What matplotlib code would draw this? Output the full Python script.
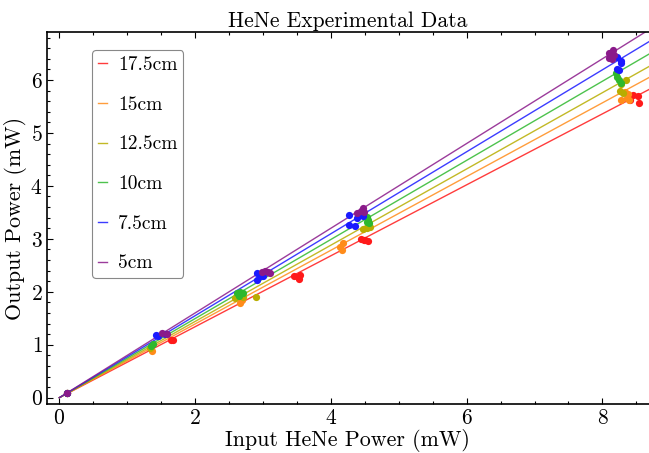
import matplotlib
matplotlib.use('Agg')
import matplotlib.pyplot as plt
from matplotlib.ticker import MultipleLocator
import numpy as np

plt.rcParams['font.family'] = 'serif'
plt.rcParams['font.serif'] = ['cmr10', 'DejaVu Serif']
plt.rcParams['mathtext.fontset'] = 'cm'
plt.rcParams['axes.formatter.use_mathtext'] = True

# series labels and colours (cavity length)
labels = ['17.5cm', '15cm', '12.5cm', '10cm', '7.5cm', '5cm']
colors = ['#ff1a1a', '#ff8c1a', '#b8ad00', '#2eb82e', '#1a1aff', '#8a1a8a']

x_175 = [0.11, 1.64, 1.67, 3.45, 3.51, 3.54, 3.53, 4.45, 4.50, 4.55, 4.49, 8.45, 8.53, 8.40, 8.54]
y_175 = [0.08, 1.09, 1.08, 2.30, 2.27, 2.32, 2.25, 2.99, 2.98, 2.95, 2.97, 5.72, 5.69, 5.62, 5.57]

x_150 = [0.11, 1.36, 2.66, 2.69, 4.18, 4.14, 4.16, 8.33, 8.38, 8.36, 8.28, 8.39]
y_150 = [0.08, 0.89, 1.79, 1.85, 2.93, 2.84, 2.79, 5.78, 5.73, 5.65, 5.62, 5.62]

x_125 = [0.11, 1.34, 2.59, 2.71, 2.90, 4.48, 4.53, 4.58, 8.35, 8.28, 8.26, 8.30]
y_125 = [0.08, 0.93, 1.88, 1.91, 1.91, 3.18, 3.20, 3.22, 6.00, 5.92, 5.80, 5.76]

x_100 = [0.11, 1.35, 1.38, 2.61, 2.66, 2.70, 2.64, 4.53, 4.55, 4.53, 4.56, 8.20, 8.22, 8.25, 8.27]
y_100 = [0.08, 0.98, 1.01, 1.97, 2.00, 1.97, 1.92, 3.41, 3.36, 3.32, 3.29, 6.13, 6.06, 6.00, 5.95]

x_75 = [0.11, 1.42, 1.46, 1.56, 2.91, 2.95, 2.91, 3.00, 4.27, 4.38, 4.27, 4.35, 4.48,
        8.22, 8.27, 8.28, 8.21, 8.25]
y_75 = [0.08, 1.18, 1.17, 1.20, 2.36, 2.29, 2.22, 2.30, 3.45, 3.39, 3.26, 3.24, 3.43,
        6.44, 6.35, 6.32, 6.20, 6.19]

x_50 = [0.11, 1.51, 1.58, 2.98, 3.03, 3.08, 3.11, 4.39, 4.44, 4.48, 4.49,
        8.10, 8.16, 8.17, 8.09, 8.14]
y_50 = [0.08, 1.22, 1.20, 2.38, 2.40, 2.38, 2.36, 3.49, 3.53, 3.58, 3.51,
        6.50, 6.57, 6.47, 6.41, 6.39]

# slopes of the fitted lines through the origin
fit_slopes = [0.670, 0.696, 0.720, 0.747, 0.774, 0.800]

xs = [x_175, x_150, x_125, x_100, x_75, x_50]
ys = [y_175, y_150, y_125, y_100, y_75, y_50]

fig = plt.figure(figsize=(6.49, 4.53), dpi=100)
ax = fig.add_axes([0.072, 0.1075, 0.928, 0.8212])

line_x = np.array([0.0, 9.0])
handles = []
for lab, col, m, px, py in zip(labels, colors, fit_slopes, xs, ys):
    h, = ax.plot(line_x, m * line_x, color=col, lw=1.0, alpha=0.85, label=lab, zorder=2)
    ax.plot(px, py, 'o', color=col, ms=5.2, mec='none', zorder=3)
    handles.append(h)

ax.set_xlim(-0.186, 8.686)
ax.set_ylim(-0.125, 6.90)

ax.xaxis.set_major_locator(MultipleLocator(2))
ax.xaxis.set_minor_locator(MultipleLocator(0.5))
ax.yaxis.set_major_locator(MultipleLocator(1))
ax.yaxis.set_minor_locator(MultipleLocator(0.2))
ax.tick_params(which='both', direction='in', top=True, right=False,
               labelsize=15.5, width=0.8)
ax.tick_params(which='major', length=4, pad=3)
ax.tick_params(which='minor', length=2)
ax.spines['right'].set_visible(False)
for s in ['left', 'bottom', 'top']:
    ax.spines[s].set_linewidth(1.2)

ax.set_title('HeNe Experimental Data', fontsize=15.5, pad=4)
ax.set_xlabel('Input HeNe Power (mW)', fontsize=15.8, labelpad=1)
ax.set_ylabel('Output Power (mW)', fontsize=15.8)
ax.yaxis.set_label_coords(-0.033, 0.5)

leg = ax.legend(handles=handles, loc='upper left', bbox_to_anchor=(0.075, 0.952),
                fontsize=14, labelspacing=1.12, handlelength=0.5, handletextpad=0.55,
                borderpad=0.3, borderaxespad=0, fancybox=True, framealpha=1,
                edgecolor='#888888')
leg.get_frame().set_linewidth(0.8)

fig.savefig('out.png', dpi=100)
